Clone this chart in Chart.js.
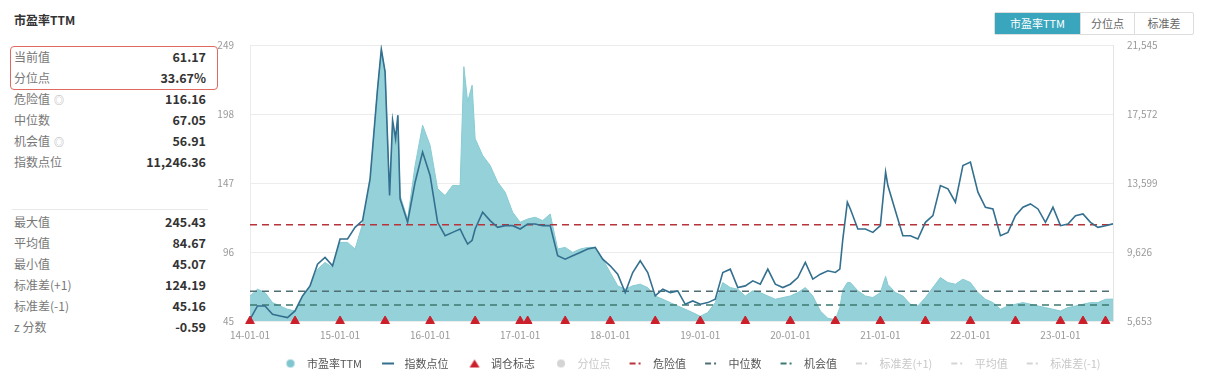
<!DOCTYPE html>
<html>
<head>
<meta charset="utf-8">
<title>市盈率TTM</title>
<script src="https://cdn.jsdelivr.net/npm/chart.js@4.4.0/dist/chart.umd.min.js"></script>
<style>
  body { margin: 0; background: #fff; font-family: "Noto Sans CJK SC", "Noto Sans", sans-serif; }
  .page { position: relative; width: 1205px; height: 390px; overflow: hidden; }
  .title { position: absolute; left: 14px; top: 11px; font-size: 12px; font-weight: bold; color: #333; }
  .hl { position: absolute; left: 10px; top: 46px; width: 208px; height: 44px; border: 1.5px solid #e06a5f; border-radius: 4px; box-sizing: border-box; }
  .row { position: absolute; left: 14px; width: 192px; height: 20px; line-height: 20px; font-size: 12px; color: #777; }
  .row b { position: absolute; right: 0; top: 0; color: #333; font-size: 12.5px; }
  .row i { font-style: normal; font-size: 10px; color: #aaa; margin-left: 4px; }
  .sep { position: absolute; left: 12px; top: 209px; width: 196px; border-top: 1px solid #e8e8e8; }
  .tabs { position: absolute; left: 994px; top: 12px; display: flex; border: 1px solid #ddd; border-radius: 2px; }
  .tab { font-size: 11px; color: #666; height: 21px; line-height: 21px; text-align: center; border-left: 1px solid #ddd; }
  .tab.on { background: #3aa6bd; color: #fff; border-left: none; }
  #wrap { position: absolute; left: 210px; top: 23px; width: 960px; height: 356px; }
</style>
</head>
<body>
<div class="page">
  <div class="title">市盈率TTM</div>
  <div class="hl"></div>
  <div id="stats"></div>
  <div class="sep"></div>
  <div class="tabs">
    <div class="tab on" style="width:85px">市盈率TTM</div>
    <div class="tab" style="width:53px">分位点</div>
    <div class="tab" style="width:58px">标准差</div>
  </div>
  <div id="wrap"><canvas id="pe-chart"></canvas></div>
</div>

<script>
// ── Data (x = months since 2014-01) ─────────────────────────────────────────
const months = [
  0, 1, 2, 3, 4, 5, 6, 7, 8, 9, 10, 11,
  12, 13, 14, 15, 16, 17, 17.5, 18, 18.6, 19, 19.4, 19.7, 20, 21, 22, 23,
  24, 25, 26, 27, 28, 28.5, 29, 29.6, 30, 31, 32, 33, 34, 35,
  36, 37, 38, 39, 40, 41, 42, 43, 44, 45, 46, 47,
  48, 49, 50, 51, 52, 53, 54, 55, 56, 57, 58, 59,
  60, 61, 62, 63, 64, 65, 66, 67, 68, 69, 70, 71,
  72, 73, 74, 75, 76, 77, 78, 78.6, 79, 79.6, 80, 81, 82, 83,
  84, 84.7, 85, 86, 87, 88, 89, 90, 91, 92, 93, 94, 95,
  96, 97, 98, 99, 100, 101, 102, 103, 104, 105, 106, 107,
  108, 109, 110, 111, 112, 113, 114, 115,
];

const peTTM = [
  63.5, 68.5, 66.0, 58.6, 56.1, 53.7, 52.4, 63.5, 71.0, 83.3, 88.3, 84.6,
  103.1, 103.1, 98.2, 116.7, 147.6, 216.9, 245.4, 229.2, 140.0, 190.0, 175.0, 197.0, 137.7, 120.4, 160.0, 189.7,
  174.8, 142.7, 137.7, 145.2, 145.0, 233.0, 207.0, 219.3, 179.8, 167.4, 160.0, 147.6, 140.2, 125.4,
  118.0, 120.4, 121.7, 119.2, 124.1, 98.2, 99.4, 95.7, 98.2, 99.4, 99.4, 90.8,
  80.9, 71.0, 68.5, 71.0, 72.2, 69.7, 63.5, 61.1, 58.6, 56.1, 53.7, 51.2,
  48.5, 51.2, 58.6, 73.4, 69.7, 68.5, 63.5, 67.3, 66.0, 63.5, 61.1, 62.3,
  63.5, 66.0, 69.7, 63.5, 52.4, 47.0, 46.0, 55.0, 68.0, 73.4, 73.4, 67.3, 63.5, 62.3,
  66.0, 78.0, 72.0, 66.0, 63.5, 57.4, 56.1, 62.3, 69.7, 77.1, 73.4, 72.2, 75.9,
  73.4, 66.0, 61.1, 58.6, 53.7, 56.1, 57.4, 58.6, 57.4, 56.1, 54.9, 53.7,
  52.4, 54.9, 56.1, 57.4, 58.6, 58.6, 61.1, 61.17,
];

const indexLevel = [
  5749, 6520, 6520, 6038, 5942, 5846, 6231, 7098, 7675, 8927, 9312, 8831,
  10372, 10372, 11046, 11431, 13839, 19039, 21300, 20002, 12876, 17209, 16150, 17498, 12683, 11335, 13646, 15379,
  14031, 11335, 10564, 10757, 10950, 10500, 10083, 10300, 10950, 11913, 11431, 11046, 11142, 11142,
  10950, 11238, 11238, 11142, 11142, 9409, 9216, 9409, 9601, 9794, 9890, 9216,
  8831, 8349, 7290, 8446, 9120, 8446, 7098, 7483, 7290, 7387, 6616, 6809,
  6616, 6712, 6905, 8446, 8638, 7579, 7675, 7964, 7772, 8638, 7772, 7579,
  7772, 8157, 9024, 8061, 8349, 8542, 8446, 8638, 10372, 12490, 12105, 10950, 10950, 10757,
  11142, 14224, 13453, 12000, 10564, 10564, 10372, 11335, 11720, 13453, 13261, 12490, 14609,
  14802, 13068, 12201, 12105, 10564, 10757, 11720, 12201, 12394, 12105, 11335, 12201,
  11142, 11238, 11720, 11816, 11335, 11046, 11142, 11246.36,
];

const rebalanceMonths = [0, 6, 12, 18, 24, 30, 36, 37, 42, 48, 54, 60, 66, 72, 78, 84, 90, 96, 102, 108, 111, 114];

const dangerValue = 116.16;
const medianValue = 67.05;
const chanceValue = 56.91;
const stdUpValue = 124.19;
const meanValue = 84.67;
const stdDownValue = 45.16;

const xTickLabels = ['14-01-01', '15-01-01', '16-01-01', '17-01-01', '18-01-01',
                     '19-01-01', '20-01-01', '21-01-01', '22-01-01', '23-01-01'];
const leftTicks = [45, 96, 147, 198, 249];
const rightTicks = [5653, 9626, 13599, 17572, 21545];

const statsTop = [
  ['当前值', '61.17'], ['分位点', '33.67%'], ['危险值', '116.16', true],
  ['中位数', '67.05'], ['机会值', '56.91', true], ['指数点位', '11,246.36'],
];
const statsBottom = [
  ['最大值', '245.43'], ['平均值', '84.67'], ['最小值', '45.07'],
  ['标准差(+1)', '124.19'], ['标准差(-1)', '45.16'], ['z 分数', '-0.59'],
];

// ── Left stats panel ────────────────────────────────────────────────────────
const statsEl = document.getElementById('stats');
function addRows(rows, top) {
  rows.forEach(([label, value, help], i) => {
    const div = document.createElement('div');
    div.className = 'row';
    div.style.top = (top + i * 21) + 'px';
    div.innerHTML = `${label}${help ? '<i>◎</i>' : ''}<b>${value}</b>`;
    statsEl.appendChild(div);
  });
}
addRows(statsTop, 47);
addRows(statsBottom, 212);

// ── Chart ───────────────────────────────────────────────────────────────────
const pts = (ys) => months.map((m, i) => ({ x: m, y: ys[i] }));
const hline = (v) => [{ x: months[0], y: v }, { x: months[months.length - 1], y: v }];

function makeIcon(kind, color) {
  const c = document.createElement('canvas');
  c.width = 16; c.height = 10;
  const g = c.getContext('2d');
  g.fillStyle = color;
  if (kind === 'circle') { g.beginPath(); g.arc(8, 5, 4, 0, Math.PI * 2); g.fill(); }
  else if (kind === 'line') { g.fillRect(2, 4, 12, 2); }
  else if (kind === 'triangle') { g.beginPath(); g.moveTo(8, 1); g.lineTo(13, 9); g.lineTo(3, 9); g.closePath(); g.fill(); }
  else { g.fillRect(1, 4, 6, 2); g.fillRect(10, 4, 2, 2); }
  return c;
}

const dashed = (label, value, color, extra) => Object.assign({
  label, data: hline(value), borderColor: color, borderWidth: 1.5, borderDash: [7, 5],
  pointRadius: 0, fill: false, yAxisID: 'y', order: 2,
  legendIcon: 'dash', legendColor: color,
}, extra || {});

const axisFont = { family: '"Noto Sans CJK SC", sans-serif', size: 10 };

new Chart(document.getElementById('pe-chart'), {
  type: 'line',
  data: {
    datasets: [
      {
        label: '市盈率TTM', data: pts(peTTM), yAxisID: 'y', order: 5,
        borderColor: '#88cbd3', borderWidth: 1, backgroundColor: '#95d1d8',
        fill: 'start', pointRadius: 0, tension: 0,
        legendIcon: 'circle', legendColor: '#7fc6cf',
      },
      {
        label: '指数点位', data: pts(indexLevel), yAxisID: 'y1', order: 1,
        borderColor: '#336f8f', borderWidth: 1.6, pointRadius: 0, fill: false, tension: 0,
        legendIcon: 'line', legendColor: '#336f8f',
      },
      {
        label: '调仓标志', data: rebalanceMonths.map(m => ({ x: m, y: leftTicks[0] })),
        yAxisID: 'y', order: 0, showLine: false, clip: false,
        pointStyle: 'triangle', pointRadius: 5, pointBackgroundColor: '#cc1f2c', pointBorderColor: '#cc1f2c',
        legendIcon: 'triangle', legendColor: '#cc1f2c',
      },
      {
        label: '分位点', data: [], yAxisID: 'y', hidden: true,
        legendIcon: 'circle', legendMuted: true,
      },
      dashed('危险值', dangerValue, '#b8333a'),
      dashed('中位数', medianValue, '#4f6f74'),
      dashed('机会值', chanceValue, '#3c7a70'),
      dashed('标准差(+1)', stdUpValue, '#999', { hidden: true, legendMuted: true }),
      dashed('平均值', meanValue, '#999', { hidden: true, legendMuted: true }),
      dashed('标准差(-1)', stdDownValue, '#999', { hidden: true, legendMuted: true }),
    ],
  },
  options: {
    responsive: true,
    maintainAspectRatio: false,
    animation: false,
    layout: { padding: { top: 7 } },
    plugins: {
      tooltip: { enabled: false },
      legend: {
        position: 'bottom',
        labels: {
          usePointStyle: true,
          pointStyleWidth: 22,
          boxHeight: 10,
          padding: 15,
          font: { family: '"Noto Sans CJK SC", sans-serif', size: 11 },
          generateLabels: (chart) => chart.data.datasets.map((ds, i) => ({
            text: ds.label,
            datasetIndex: i,
            hidden: false,
            pointStyle: makeIcon(ds.legendIcon, ds.legendMuted ? '#d4d4d4' : ds.legendColor),
            fontColor: ds.legendMuted ? '#c8c8c8' : '#555',
            fillStyle: 'transparent', strokeStyle: 'transparent', lineWidth: 1,
          })),
        },
      },
    },
    scales: {
      x: {
        type: 'linear', min: 0, max: 115,
        grid: { display: false, drawTicks: false },
        border: { display: false },
        ticks: {
          autoSkip: false, maxRotation: 0, padding: 8, color: '#999', font: axisFont,
          callback: (v) => xTickLabels[Math.round(v / 12)],
        },
        afterBuildTicks: (s) => { s.ticks = xTickLabels.map((_, i) => ({ value: i * 12 })); },
        afterFit: (s) => { s.height = 22; },
      },
      y: {
        position: 'left', min: leftTicks[0], max: leftTicks[leftTicks.length - 1],
        grid: { color: '#ececec', drawTicks: false },
        border: { display: true, color: '#ececec' },
        ticks: { padding: 16, color: '#999', font: axisFont },
        afterBuildTicks: (s) => { s.ticks = leftTicks.map(v => ({ value: v })); },
        afterFit: (s) => { s.width = 40; },
      },
      y1: {
        position: 'right', min: rightTicks[0], max: rightTicks[rightTicks.length - 1],
        grid: { display: false, drawTicks: false },
        border: { display: true, color: '#e4e4e4' },
        ticks: { padding: 14, color: '#999', font: axisFont, callback: (v) => v.toLocaleString('en-US') },
        afterBuildTicks: (s) => { s.ticks = rightTicks.map(v => ({ value: v })); },
        afterFit: (s) => { s.width = 57; },
      },
    },
  },
});
</script>
</body>
</html>
